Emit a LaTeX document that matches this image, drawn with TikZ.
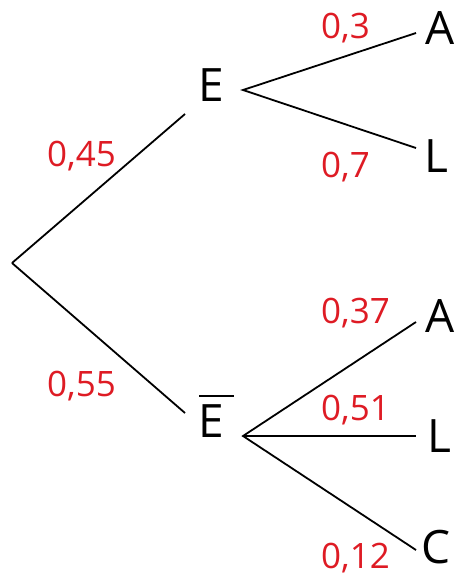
\documentclass[tikz,border=0pt]{standalone}
\usepackage{fontspec}
\setmainfont{Open Sans}
\definecolor{probred}{RGB}{222,27,36}
\begin{document}
\begin{tikzpicture}[x=1pt,y=-1pt,
  branch/.style={line width=1.8pt,black},
  event/.style={inner sep=0pt,anchor=base west,font=\fontsize{46}{46}\selectfont},
  prob/.style={inner sep=0pt,anchor=base west,text=probred,font=\fontsize{35}{35}\selectfont}]
\useasboundingbox (0,0) rectangle (456,575);

% branch points
\coordinate (root) at (12,263);
\coordinate (Ein) at (185,114);
\coordinate (Eout) at (243,90);
\coordinate (Ebin) at (185,413);
\coordinate (Ebout) at (243,436);
\coordinate (A1in) at (416,33);
\coordinate (L1in) at (416,148);
\coordinate (A2in) at (416,322);
\coordinate (L2in) at (416,436);
\coordinate (C2in) at (416,550);

% events
\node[event] (E) at (198,102) {E};
\node[event] (Eb) at (198,437) {E};
\draw[line width=1.4pt] (199,396) -- (234,396);
\node[event] (A1) at (425,45) {A};
\node[event] (L1) at (424,172) {L};
\node[event] (A2) at (425,332) {A};
\node[event] (L2) at (427,452) {L};
\node[event] (C2) at (421,563) {C};

% branches
\draw[branch] (root) -- (Ein);
\draw[branch] (root) -- (Ebin);
\draw[branch] (A1in) -- (Eout) -- (L1in);
\draw[branch] (A2in) -- (Ebout) -- (C2in);
\draw[branch] (Ebout) -- (L2in);

% probabilities
\node[prob] (p045) at (47,166) {0,45};
\node[prob] (p055) at (47,396) {0,55};
\node[prob] (p03) at (321,39) {0,3};
\node[prob] (p07) at (321,177) {0,7};
\node[prob] (p037) at (321,323) {0,37};
\node[prob] (p051) at (321,420) {0,51};
\node[prob] (p012) at (321,568) {0,12};
\end{tikzpicture}
\end{document}
